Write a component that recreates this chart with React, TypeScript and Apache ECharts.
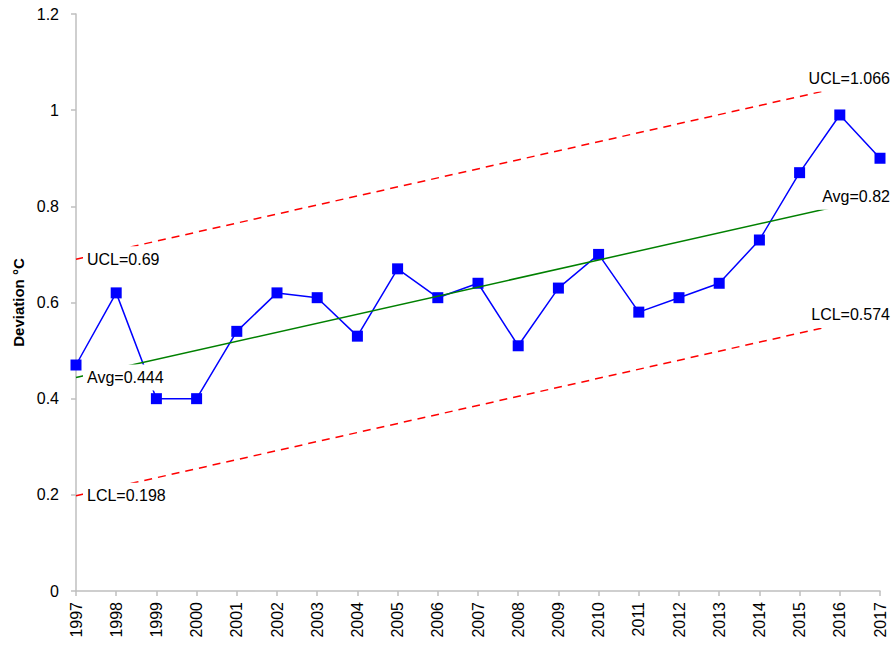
import React, { useEffect, useRef } from "react";
import * as echarts from "echarts";

const years = ["1997","1998","1999","2000","2001","2002","2003","2004","2005","2006","2007","2008","2009","2010","2011","2012","2013","2014","2015","2016","2017"];
const deviation = [0.47,0.62,0.40,0.40,0.54,0.62,0.61,0.53,0.67,0.61,0.64,0.51,0.63,0.70,0.58,0.61,0.64,0.73,0.87,0.99,0.90];
const uclEnds = [0.69, 1.066];
const avgEnds = [0.444, 0.82];
const lclEnds = [0.198, 0.574];
const yTicks = { min: 0, max: 1.2, interval: 0.2 };

const FONT = "Liberation Sans";

function trend(name: string, ends: number[], color: string, dashed: boolean) {
  const first = years[0];
  const last = years[years.length - 1];
  const lbl = {
    show: true,
    color: "#000",
    fontFamily: FONT,
    fontSize: 16,
    backgroundColor: "#fff",
    padding: [5, 4, 5, 4],
  };
  return {
    type: "line",
    name,
    z: 10,
    symbol: "rect",
    symbolSize: 0.01,
    showSymbol: true,
    itemStyle: { color: "rgba(0,0,0,0)" },
    lineStyle: { color, width: 1.5, type: dashed ? [8, 6] : "solid" },
    emphasis: { disabled: true },
    data: [
      {
        value: [first, ends[0]],
        label: { ...lbl, position: "right", distance: 7, formatter: `${name}=${ends[0]}` },
      },
      {
        value: [last, ends[1]],
        label: { ...lbl, position: [14, 0], align: "right", verticalAlign: "middle", formatter: `${name}=${ends[1]}` },
      },
    ],
  };
}

export default function App() {
  const ref = useRef<HTMLDivElement>(null);
  useEffect(() => {
    const chart = echarts.init(ref.current!, null, { renderer: "svg" });
    chart.setOption({
      animation: false,
      backgroundColor: "#fff",
      grid: { left: 76, right: 16, top: 14, bottom: 58, containLabel: false },
      xAxis: {
        type: "category",
        data: years,
        boundaryGap: false,
        axisLine: { lineStyle: { color: "#BFBFBF", width: 1.5 } },
        axisTick: { show: true, length: 5, lineStyle: { color: "#BFBFBF", width: 1.5 } },
        axisLabel: { rotate: 90, margin: 11, color: "#000", fontFamily: FONT, fontSize: 16, interval: 0 },
        splitLine: { show: false },
      },
      yAxis: {
        type: "value",
        min: yTicks.min,
        max: yTicks.max,
        interval: yTicks.interval,
        name: "Deviation °C",
        nameLocation: "middle",
        nameGap: 47,
        nameRotate: 90,
        nameTextStyle: { color: "#000", fontFamily: FONT, fontSize: 15, fontWeight: "bold" },
        axisLine: { show: true, lineStyle: { color: "#BFBFBF", width: 1.5 } },
        axisTick: { show: true, length: 5, lineStyle: { color: "#BFBFBF", width: 1.5 } },
        axisLabel: { margin: 17, color: "#000", fontFamily: FONT, fontSize: 16 },
        splitLine: { show: false },
      },
      series: [
        {
          type: "line",
          name: "Deviation",
          z: 2,
          data: deviation,
          symbol: "rect",
          symbolSize: 11,
          itemStyle: { color: "#0000FF" },
          lineStyle: { color: "#0000FF", width: 1.5 },
          emphasis: { disabled: true },
        },
        trend("UCL", uclEnds, "#FF0000", true),
        trend("Avg", avgEnds, "#008000", false),
        trend("LCL", lclEnds, "#FF0000", true),
      ],
    });
    return () => chart.dispose();
  }, []);
  return (
    <div
      ref={ref}
      style={{ position: "fixed", left: 0, top: 0, width: 896, height: 649 }}
    />
  );
}
